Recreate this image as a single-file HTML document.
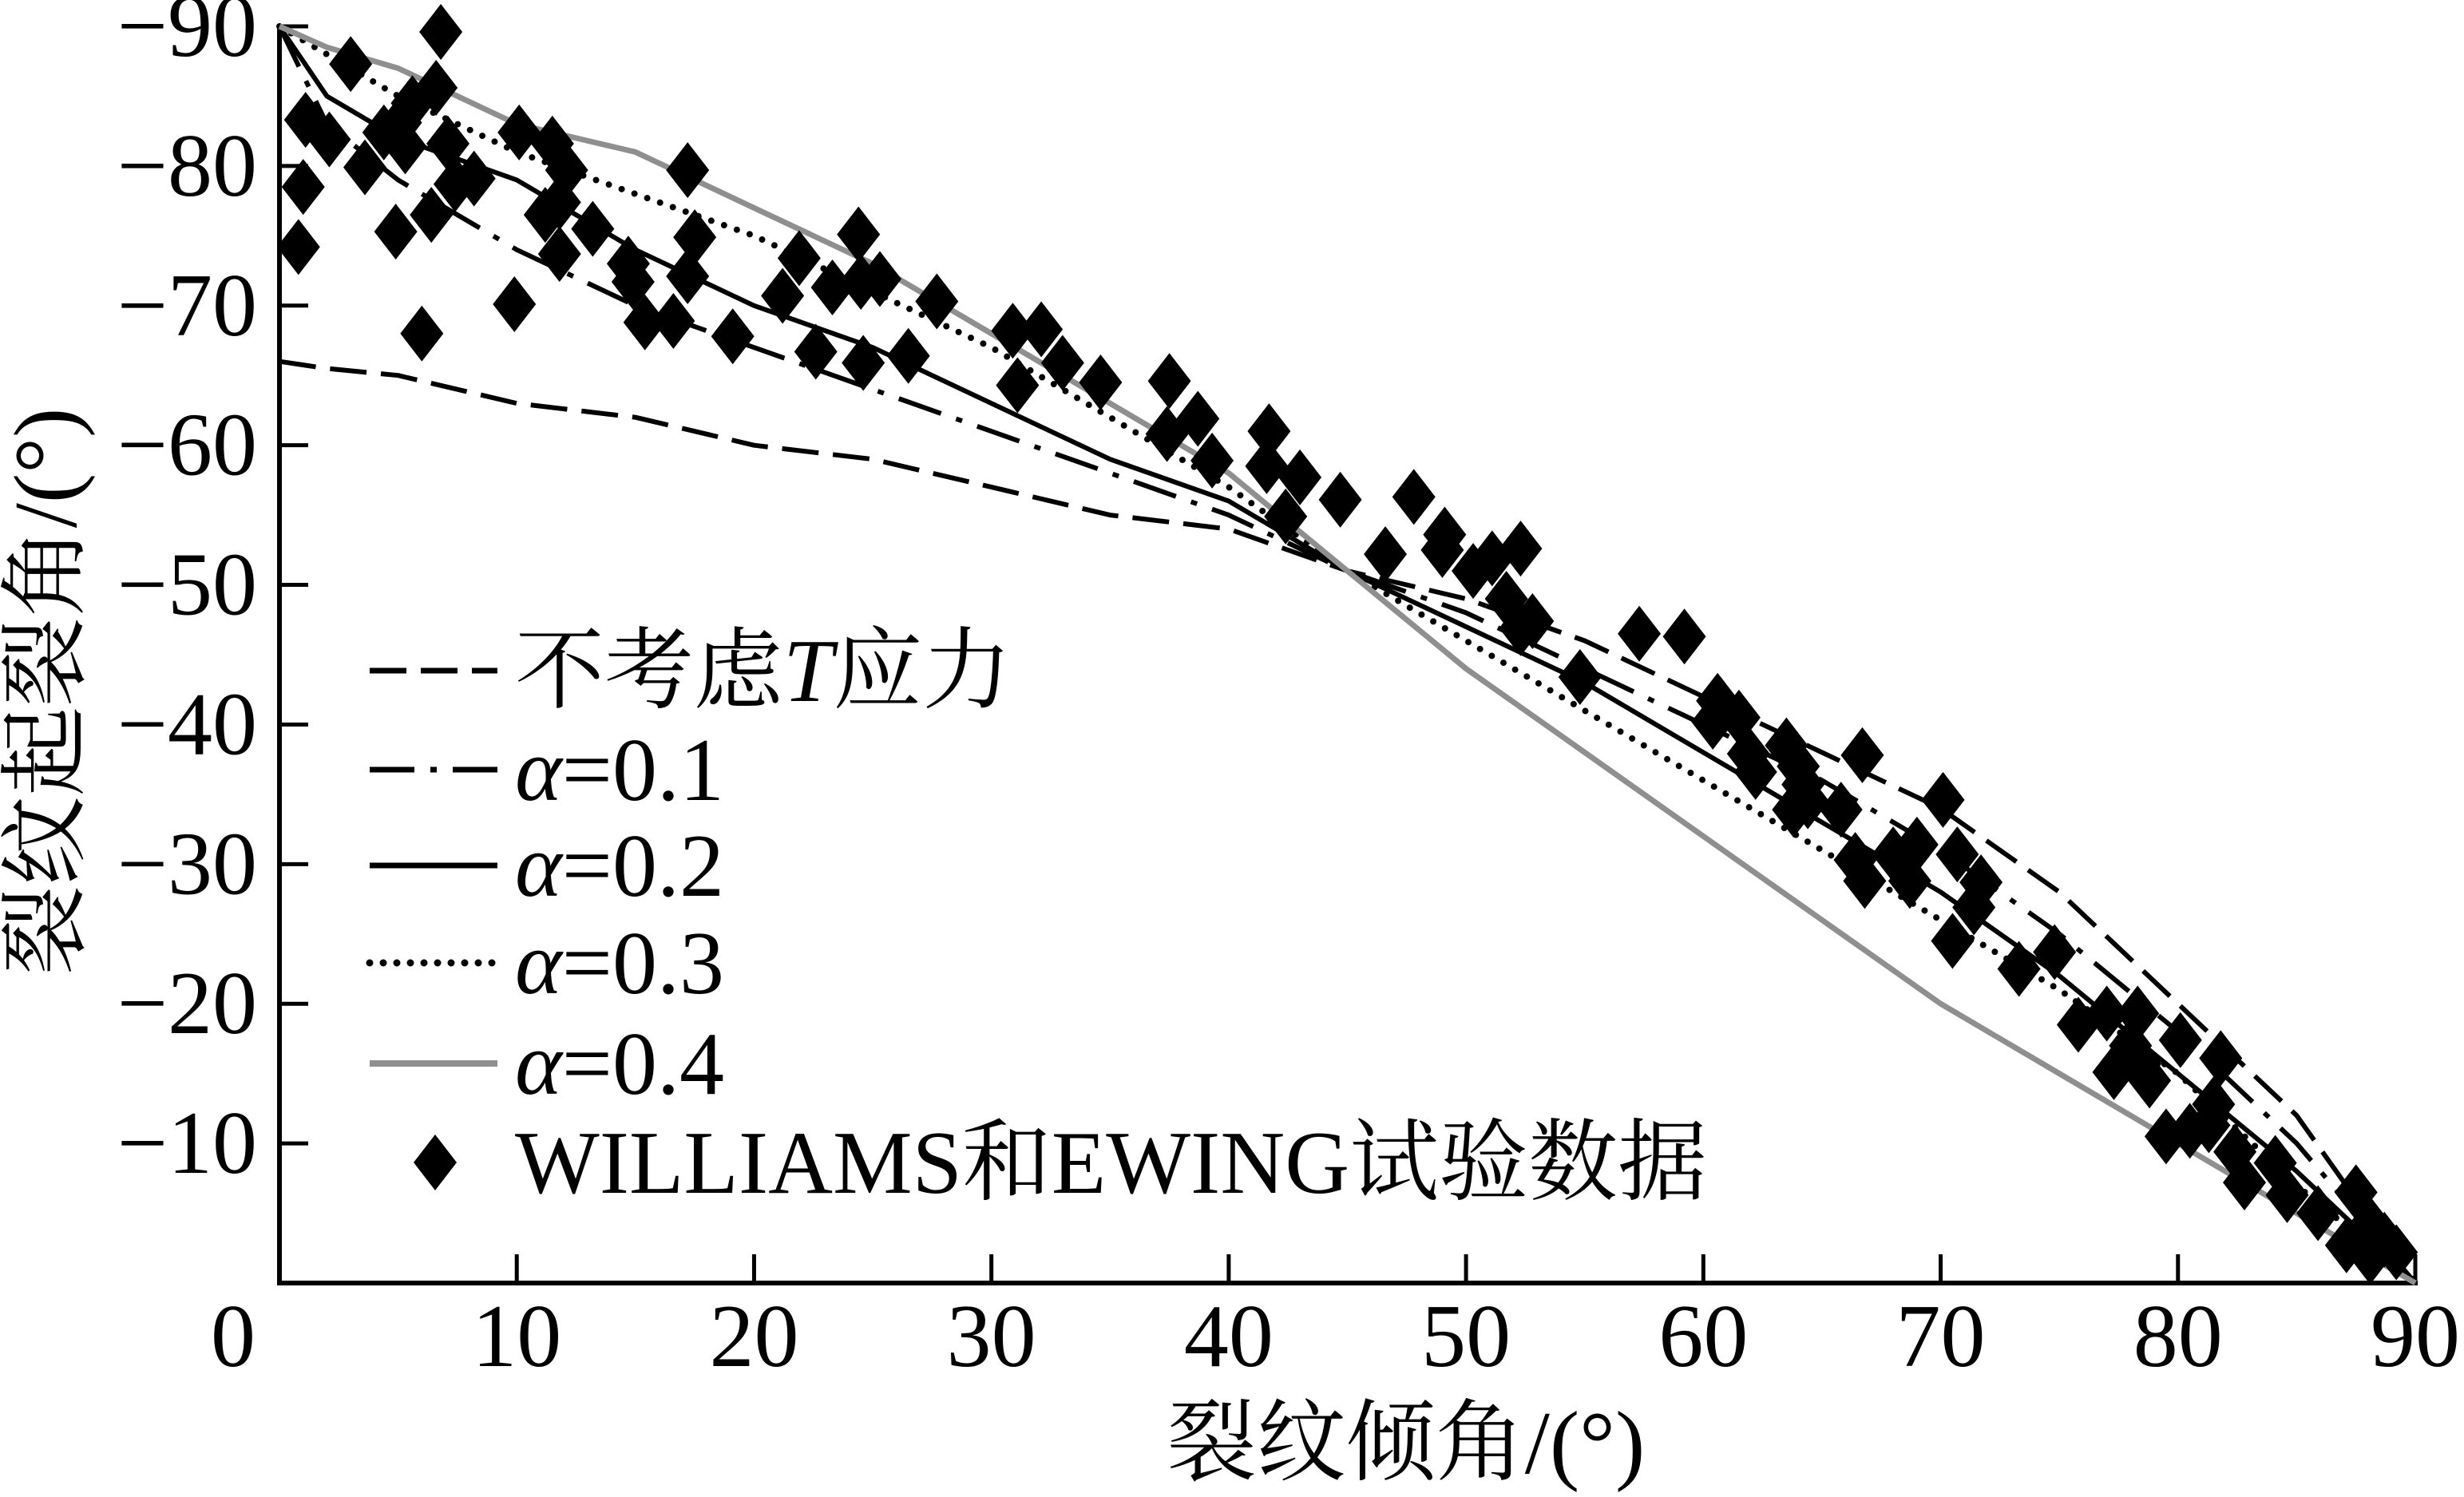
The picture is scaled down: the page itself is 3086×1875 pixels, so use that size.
<!DOCTYPE html>
<html><head><meta charset="utf-8">
<style>
html,body{margin:0;padding:0;background:#fff;}
svg{display:block;}
text{font-family:"Liberation Serif","Noto Serif CJK SC",serif;fill:#000;}
</style></head>
<body>
<svg id="chart" width="3086" height="1875" viewBox="0 0 3086 1875" xmlns="http://www.w3.org/2000/svg">
  <g id="axes"></g>
  <g id="series"></g>
  <g id="points"></g>
  <g id="legend"></g>
  <text x="1761" y="1845" font-size="112" text-anchor="middle">裂纹倾角/(°)</text>
  <text x="0" y="0" font-size="112" text-anchor="middle" transform="translate(95,866) rotate(-90)">裂纹起裂角/(°)</text>
</svg>
<script>
const xTicks = [0,10,20,30,40,50,60,70,80,90];
const yTicks = [-90,-80,-70,-60,-50,-40,-30,-20,-10];
const yTickLabels = ["−90","−80","−70","−60","−50","−40","−30","−20","−10"];
const curveX = [0,2,5,10,15,20,25,30,35,40,45,50,55,60,65,70,75,80,85,90];
const noT    = [-66,-65.5,-65,-63,-62,-60,-59,-57,-55,-54,-51,-49,-46,-42,-38,-34,-28,-20,-12,0];
const a01    = [-90,-83,-79,-74,-70,-67,-64,-61,-58,-55,-51,-48,-44,-40,-36,-31,-25,-18,-10,0];
const a02    = [-90,-85,-82,-79,-74,-70,-67,-63,-59,-56,-51,-47,-43,-38,-33,-28,-22,-15,-8,0];
const a03    = [-90,-88,-85,-81,-78,-75,-71,-67,-62,-57,-51,-46,-41,-36,-31,-26,-21,-15,-7,0];
const a04    = [-90,-88.5,-87,-83,-81,-77,-73,-68,-63,-58,-51,-44,-38,-32,-26,-20,-15,-10,-5,0];
const ptX = [1.1,1.0,0.8,3.0,6.8,6.6,2.1,3.6,4.4,5.1,5.6,5.3,4.9,6.4,7.1,7.4,8.2,6.0,10.1,11.2,11.5,12.1,11.8,11.8,13.2,9.9,14.7,14.9,15.4,16.6,17.2,17.5,17.2,19.1,21.2,21.9,22.6,23.3,24.4,24.5,24.6,25.3,26.5,27.7,30.9,31.1,32.1,33.0,34.6,37.5,37.4,38.7,39.3,41.7,41.6,43.0,42.4,44.7,46.6,47.8,49.1,49.0,50.3,51.1,52.3,51.7,52.3,52.8,54.8,57.3,59.2,60.6,60.4,61.5,61.9,62.2,63.5,64.0,64.2,63.8,64.4,65.8,66.7,66.4,66.8,68.0,69.0,68.7,70.1,70.7,71.7,71.4,70.5,73.3,74.8,75.8,77.0,77.3,78.3,78.0,78.4,78.8,80.1,79.5,80.5,81.5,81.8,81.3,82.4,82.8,84.1,84.6,85.9,87.5,87.1,88.1,88.7,89.2,88.1];
const ptY = [-83.3,-78.5,-74.2,-87.3,-89.6,-85.6,-81.9,-79.9,-82.4,-83.1,-84.5,-81.4,-75.3,-76.5,-81.6,-78.7,-79.1,-68,-82.4,-76.5,-81.6,-79.7,-73.7,-77.4,-75.5,-70.1,-73,-71.7,-68.8,-68.9,-79.7,-74.9,-72.1,-67.8,-70.7,-73.4,-66.7,-71.3,-75.1,-71.7,-65.9,-71.9,-66.4,-70.3,-68.2,-64.3,-68.3,-65.9,-64.5,-64.6,-60.8,-61.9,-58.9,-61,-58.5,-57.7,-54.9,-56.1,-52.2,-56.3,-53.6,-52.5,-51,-51.9,-52.6,-49,-46.9,-47.4,-43.4,-46.5,-46.3,-41.7,-40.2,-40.5,-37.9,-36.6,-38.5,-37,-35.7,-33.9,-34.5,-33.9,-37.8,-30.3,-28.8,-30.7,-31.4,-28.8,-34.6,-30.7,-28.7,-26.9,-24.5,-22.5,-23.7,-18.5,-19.3,-15.1,-19.3,-17,-15.7,-14.5,-17.4,-10.5,-10.9,-12.8,-16.1,-11.3,-9.4,-7.2,-8.6,-6.3,-5,-6.5,-2.7,-4.2,-3.1,-2.2,-1.9];

const NS='http://www.w3.org/2000/svg';
const X0=350, X1=3025, Y0=1607, YTOP=33;
function X(v){return X0+(v/90)*(X1-X0);}
function Y(v){return Y0+(v/90)*(Y0-YTOP);}
function mk(tag,parent,attrs){const e=document.createElementNS(NS,tag);for(const k in attrs)e.setAttribute(k,attrs[k]);parent.appendChild(e);return e;}

const axes=document.getElementById('axes');
let e;
e=mk('line',axes,{x1:X0,y1:YTOP-2,x2:X0,y2:Y0+3,stroke:'#000','stroke-width':6});


e=mk('line',axes,{x1:X0-3,y1:Y0,x2:X1+3,y2:Y0,stroke:'#000','stroke-width':6});


xTicks.forEach((v,i)=>{
  if(v>0){
    e=mk('line',axes,{x1:X(v),y1:Y0,x2:X(v),y2:Y0-36,stroke:'#000','stroke-width':5});
    
    
  }
  e=mk('text',axes,{x:(v===0?292:X(v)),y:1711,'font-size':112,'text-anchor':'middle'});
  e.textContent=String(v);
  
  
});
yTicks.forEach((v,i)=>{
  e=mk('line',axes,{x1:X0,y1:Y(v),x2:X0+36,y2:Y(v),stroke:'#000','stroke-width':5});
  
  
  e=mk('text',axes,{x:322,y:Y(v)+37,'font-size':112,'text-anchor':'end'});
  e.textContent=yTickLabels[i];
  
  
});

const styles=[
  {d:noT,name:'no-t-stress-line',stroke:'#000',w:6,dash:'46 18',cap:'butt'},
  {d:a01,name:'alpha-0.1-line',stroke:'#000',w:6,dash:'56 20 8 20',cap:'butt'},
  {d:a02,name:'alpha-0.2-line',stroke:'#000',w:6,dash:'',cap:'butt'},
  {d:a03,name:'alpha-0.3-line',stroke:'#000',w:8,dash:'0 17',cap:'round'},
  {d:a04,name:'alpha-0.4-line',stroke:'#8f8f8f',w:7,dash:'',cap:'butt'}
];
const series=document.getElementById('series');
styles.forEach(s=>{
  const pts=curveX.map((x,i)=>X(x).toFixed(1)+','+Y(s.d[i]).toFixed(1)).join(' ');
  const a={points:pts,fill:'none',stroke:s.stroke,'stroke-width':s.w,'stroke-linecap':s.cap,'stroke-linejoin':'round'};
  if(s.dash)a['stroke-dasharray']=s.dash;
  e=mk('polyline',series,a);
  
  
});

function diamond(parent,cx,cy){
  return mk('polygon',parent,{points:`${cx},${cy-35} ${cx+27},${cy} ${cx},${cy+35} ${cx-27},${cy}`,fill:'#000'});
}
const pg=document.getElementById('points');
ptX.forEach((x,i)=>{
  e=diamond(pg,X(x),Y(ptY[i]));
  
  
});

const lg=document.getElementById('legend');
const rowsY=[840,964,1084,1206,1332,1456];
const labels=['不考虑<tspan font-style="italic">T</tspan>应力','<tspan font-style="italic">α</tspan>=0.1','<tspan font-style="italic">α</tspan>=0.2','<tspan font-style="italic">α</tspan>=0.3','<tspan font-style="italic">α</tspan>=0.4','WILLIAMS和EWING试验数据'];
styles.forEach((s,i)=>{
  const a={x1:463,y1:rowsY[i],x2:623,y2:rowsY[i],stroke:s.stroke,'stroke-width':s.w+1,'stroke-linecap':s.cap};
  if(s.dash)a['stroke-dasharray']=s.dash;
  e=mk('line',lg,a);
  
  
});
e=diamond(lg,545,rowsY[5]);


labels.forEach((t,i)=>{
  e=mk('text',lg,{x:645,y:rowsY[i]+38,'font-size':112});
  e.innerHTML=t;
  
  
});
</script>
</body></html>
